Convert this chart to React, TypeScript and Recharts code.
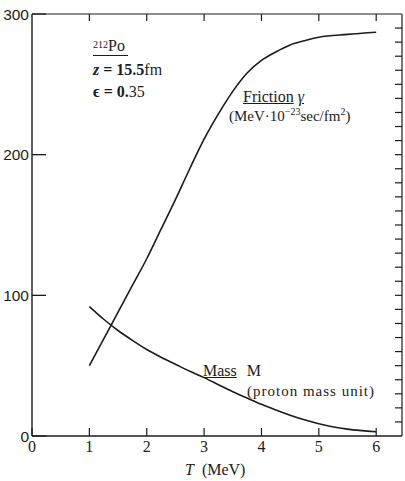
import * as React from "react";
import { LineChart, Line, XAxis, YAxis } from "recharts";

// temperature T (MeV)
const temps = [1, 1.25, 1.5, 1.75, 2, 2.25, 2.5, 2.75, 3, 3.25, 3.5, 3.75, 4, 4.25, 4.5, 4.75, 5, 5.5, 6];
// friction gamma (MeV·10^-23 sec/fm^2)
const friction = [50, 69, 88, 107, 126, 147, 168, 190, 211, 229, 245, 258, 267, 273, 278, 281, 283.5, 285.5, 287];
// mass M (proton mass unit)
const mass = [92, 83, 75, 68, 61.5, 56, 51, 46, 41.5, 36.5, 31.5, 27, 22.5, 18.5, 14.8, 11.5, 8.7, 4.9, 3];

const xTicks = [0, 1, 2, 3, 4, 5, 6];
const xTopTicks = [1, 2, 3, 4, 5, 6];
const yMajor = [0, 100, 200, 300];
const yMinor = [10, 20, 30, 40, 50, 60, 70, 80, 90, 110, 120, 130, 140, 150, 160, 170, 180, 190, 210, 220, 230, 240, 250, 260, 270, 280, 290];
const yRightTicks = [10, 20, 30, 40, 50, 60, 70, 80, 90, 100, 110, 120, 130, 140, 150, 160, 170, 180, 190, 200, 210, 220, 230, 240, 250, 260, 270, 280, 290];

const data = temps.map((t, i) => ({ t, friction: friction[i], mass: mass[i] }));

const INK = "#1c1c1c";
const SERIF = "'Liberation Serif', 'DejaVu Serif', serif";
const SANS = "'Liberation Sans', Arial, sans-serif";

const abs = (left: number, top: number): React.CSSProperties => ({
  position: "absolute",
  left,
  top,
  lineHeight: 1,
  whiteSpace: "nowrap",
  fontFamily: SERIF,
  color: INK,
});

const thin = { stroke: INK, strokeWidth: 1.2 };
// tick text kept present but invisible, so the axis still draws its tick lines
const noLabel = { fill: "none", fontSize: 1 };
const blank = () => "";
const X_DOMAIN = [0, 6.45];
const Y_DOMAIN = [0, 300];

export default function App() {
  return (
    <div style={{ position: "absolute", left: 0, top: 0, width: 405, height: 481, background: "#fff" }}>
      <LineChart width={405} height={481} data={data} margin={{ top: 0, right: 0, bottom: 0, left: 0 }}>
        {/* bottom axis (mass) and top frame axis (friction) share one scale */}
        <XAxis
          xAxisId="b"
          dataKey="t"
          type="number"
          domain={X_DOMAIN}
          allowDataOverflow
          ticks={xTicks}
          interval={0}
          height={45}
          tickSize={-8}
          tickMargin={13}
          tickLine={thin}
          axisLine={{ stroke: INK, strokeWidth: 1.4 }}
          tick={{ fontFamily: SERIF, fontSize: 16, fill: INK }}
        />
        <XAxis
          xAxisId="t"
          orientation="top"
          dataKey="t"
          type="number"
          domain={X_DOMAIN}
          allowDataOverflow
          ticks={xTopTicks}
          interval={0}
          height={14}
          tickSize={-7}
          tickLine={thin}
          axisLine={{ stroke: INK, strokeWidth: 1.2 }}
          tickFormatter={blank}
          tick={noLabel}
        />
        {/* left axis (friction) and right frame axis (mass) share one scale */}
        <YAxis
          yAxisId="l"
          type="number"
          domain={Y_DOMAIN}
          allowDataOverflow
          ticks={yMajor}
          interval={0}
          width={32}
          tickSize={-14}
          tickMargin={17}
          tickLine={{ stroke: INK, strokeWidth: 1.3 }}
          axisLine={{ stroke: INK, strokeWidth: 1.4 }}
          tick={{ fontFamily: SANS, fontSize: 15.5, fill: INK }}
        />
        <YAxis
          yAxisId="lm"
          mirror
          type="number"
          domain={Y_DOMAIN}
          allowDataOverflow
          ticks={yMinor}
          interval={0}
          width={0}
          tickSize={5}
          tickLine={thin}
          axisLine={false}
          tickFormatter={blank}
          tick={noLabel}
        />
        <YAxis
          yAxisId="r"
          orientation="right"
          type="number"
          domain={Y_DOMAIN}
          allowDataOverflow
          ticks={yRightTicks}
          interval={0}
          width={3}
          tickSize={-7}
          tickLine={thin}
          axisLine={{ stroke: INK, strokeWidth: 1.2 }}
          tickFormatter={blank}
          tick={noLabel}
        />
        <Line
          xAxisId="t"
          yAxisId="l"
          type="monotone"
          dataKey="friction"
          stroke={INK}
          strokeWidth={1.6}
          dot={false}
          isAnimationActive={false}
        />
        <Line
          xAxisId="b"
          yAxisId="r"
          type="monotone"
          dataKey="mass"
          stroke={INK}
          strokeWidth={1.6}
          dot={false}
          isAnimationActive={false}
        />
      </LineChart>

      {/* nucleus / parameters */}
      <div style={{ ...abs(93, 38), fontSize: 16, borderBottom: `1px solid ${INK}`, paddingBottom: 1, paddingRight: 3 }}>
        <span style={{ fontSize: 10, position: "relative", top: -3 }}>212</span>Po
      </div>
      <div style={{ ...abs(93, 62), fontSize: 16 }}>
        <b><i>z</i> = 15.5</b>fm
      </div>
      <div style={{ ...abs(93, 84), fontSize: 16 }}>
        <b>ϵ = 0.</b>35
      </div>

      {/* friction label */}
      <div style={{ ...abs(243, 89), fontSize: 16 }}>
        <span style={{ textDecoration: "underline" }}>Friction</span>{" "}
        <i style={{ textDecoration: "underline" }}>γ</i>
      </div>
      <div style={{ ...abs(229, 109), fontSize: 15 }}>
        (MeV·10<sup style={{ fontSize: 10, lineHeight: 0 }}>−23</sup>sec/fm<sup style={{ fontSize: 10, lineHeight: 0 }}>2</sup>)
      </div>

      {/* mass label */}
      <div style={{ ...abs(203, 363), fontSize: 16 }}>
        <span style={{ textDecoration: "underline" }}>Mass</span>
        <span style={{ marginLeft: 10 }}>M</span>
      </div>
      <div style={{ ...abs(247, 384), fontSize: 15, letterSpacing: 1 }}>(proton mass unit)</div>

      {/* x axis title */}
      <div style={{ ...abs(185, 462), fontSize: 16 }}>
        <i>T</i>
        <span style={{ marginLeft: 8 }}>(MeV)</span>
      </div>
    </div>
  );
}
